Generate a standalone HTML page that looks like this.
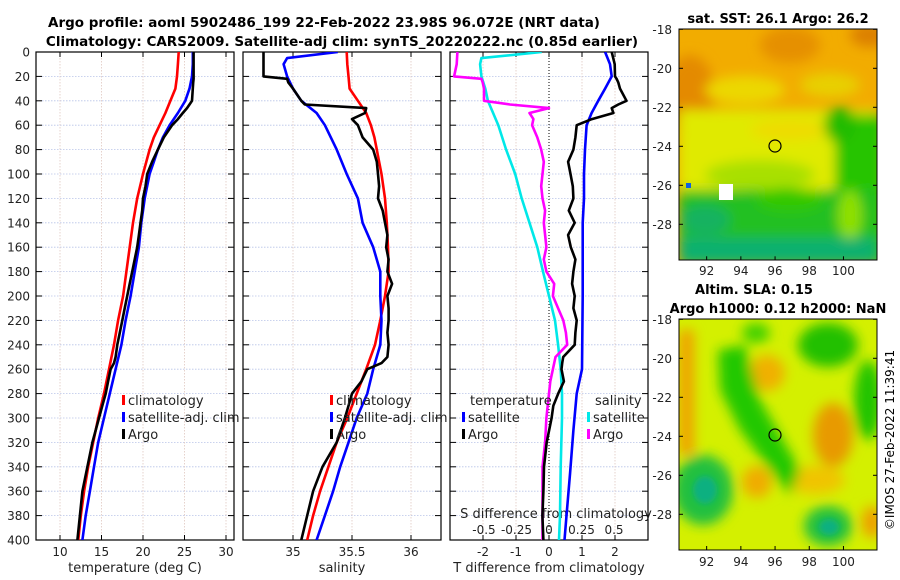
<!DOCTYPE html>
<html><head><meta charset="utf-8"><style>
html,body{margin:0;padding:0;background:#fff;}
svg{display:block;font-family:"DejaVu Sans","Liberation Sans",sans-serif;}
</style></head><body>
<svg id="chart" width="900" height="580" viewBox="0 0 900 580" xmlns="http://www.w3.org/2000/svg">
<defs>
<filter id="blur6" x="-50%" y="-50%" width="200%" height="200%"><feGaussianBlur stdDeviation="6"/></filter>
<filter id="blur3" x="-50%" y="-50%" width="200%" height="200%"><feGaussianBlur stdDeviation="3"/></filter>
<clipPath id="clipMap1"><rect x="679" y="29" width="198" height="231"/></clipPath>
<clipPath id="clipMap2"><rect x="679" y="319" width="198" height="231"/></clipPath>
<clipPath id="clipP1"><rect x="36" y="52" width="198" height="488"/></clipPath>
<clipPath id="clipP2"><rect x="243" y="52" width="198" height="488"/></clipPath>
<clipPath id="clipP3"><rect x="450" y="52" width="198" height="488"/></clipPath>
</defs>
<text x="324" y="27" text-anchor="middle" font-size="13.5" font-weight="bold">Argo profile: aoml 5902486_199 22-Feb-2022 23.98S 96.072E (NRT data)</text>
<text x="342" y="46" text-anchor="middle" font-size="13.5" font-weight="bold">Climatology: CARS2009. Satellite-adj clim: synTS_20220222.nc (0.85d earlier)</text>

<g id="map1">
 <g clip-path="url(#clipMap1)">
  <rect x="679" y="29" width="198" height="231" fill="#f2ac00"/>
  <g filter="url(#blur6)">
   <ellipse cx="690" cy="95" rx="25" ry="40" fill="#e48a00"/>
   <ellipse cx="790" cy="45" rx="30" ry="18" fill="#e69000"/>
   <ellipse cx="870" cy="35" rx="20" ry="12" fill="#dc8000"/>
   <rect x="679" y="110" width="198" height="80" fill="#e0ea00"/>
   <ellipse cx="745" cy="90" rx="40" ry="14" fill="#ecd800"/>
   <ellipse cx="830" cy="85" rx="30" ry="12" fill="#e8d000"/>
   <ellipse cx="760" cy="175" rx="55" ry="15" fill="#a8e000"/>
   <ellipse cx="790" cy="130" rx="40" ry="10" fill="#eedc00"/>
   <rect x="835" y="115" width="50" height="150" fill="#28c400"/>
   <ellipse cx="840" cy="125" rx="16" ry="18" fill="#20bc00"/>
   <rect x="679" y="190" width="198" height="75" fill="#20c020"/>
   <ellipse cx="790" cy="200" rx="35" ry="12" fill="#30c800"/>
   <ellipse cx="850" cy="215" rx="12" ry="25" fill="#90e000"/>
   <rect x="679" y="238" width="198" height="25" fill="#10b070"/>
   <ellipse cx="705" cy="220" rx="25" ry="15" fill="#14b260"/>
  </g>
  <rect x="719" y="184" width="14" height="16" fill="#ffffff"/>
  <rect x="686" y="183" width="5" height="5" fill="#1060e0"/>
 </g>
 <rect x="679" y="29" width="198" height="231" fill="none" stroke="#000" stroke-width="1"/>
 <circle cx="775" cy="146" r="6" fill="none" stroke="#000" stroke-width="1.2"/>
 <text x="778" y="23" text-anchor="middle" font-size="13" font-weight="bold">sat. SST: 26.1 Argo: 26.2</text>
</g>

<g id="map2">
 <g clip-path="url(#clipMap2)">
  <rect x="679" y="319" width="198" height="231" fill="#d4f000"/>
  <g filter="url(#blur6)">
   <rect x="679" y="330" width="15" height="125" fill="#f0a000"/>
   <ellipse cx="767" cy="373" rx="18" ry="18" fill="#f0b000"/>
   <ellipse cx="833" cy="435" rx="20" ry="32" fill="#e89a00"/>
   <ellipse cx="757" cy="482" rx="15" ry="16" fill="#f0ac00"/>
   <ellipse cx="872" cy="522" rx="10" ry="16" fill="#ee9e00"/>
   <ellipse cx="815" cy="480" rx="30" ry="14" fill="#f0c400"/>
   <path d="M718 350 L745 345 L760 400 L800 470 L790 495 L770 470 L740 430 L720 390 Z" fill="#22c800"/>
   <ellipse cx="828" cy="345" rx="30" ry="22" fill="#20c000"/>
   <ellipse cx="868" cy="400" rx="14" ry="40" fill="#22c400"/>
   <ellipse cx="756" cy="333" rx="14" ry="10" fill="#40d000"/>
   <ellipse cx="703" cy="490" rx="30" ry="35" fill="#20c040"/>
   <ellipse cx="828" cy="526" rx="24" ry="20" fill="#20c040"/>
  </g>
  <g filter="url(#blur3)">
   <ellipse cx="705" cy="490" rx="12" ry="14" fill="#10b080"/>
   <ellipse cx="829" cy="527" rx="10" ry="8" fill="#10b080"/>
  </g>
 </g>
 <rect x="679" y="319" width="198" height="231" fill="none" stroke="#000" stroke-width="1"/>
 <circle cx="775" cy="435" r="6" fill="none" stroke="#000" stroke-width="1.2"/>
 <text x="754" y="294" text-anchor="middle" font-size="13" font-weight="bold">Altim. SLA: 0.15</text>
 <text x="778" y="313" text-anchor="middle" font-size="13" font-weight="bold">Argo h1000: 0.12 h2000: NaN</text>
</g>
<text transform="translate(894,440) rotate(-90)" text-anchor="middle" font-size="12">©IMOS 27-Feb-2022 11:39:41</text>
<g id="dyn"></g>
</svg>
<script>
// ---- data ----
const depthTicks = [0,20,40,60,80,100,120,140,160,180,200,220,240,260,280,300,320,340,360,380,400];
const tempTicks = [10,15,20,25,30];
const salTicks = [35,35.5,36];
const tdiffTicks = [-2,-1,0,1,2];
const sdiffTicks = [-0.5,-0.25,0,0.25,0.5];
const sdiffTickLabels = ["-0.5","-0.25","0","0.25","0.5"];
const lonTicks = [92,94,96,98,100];
const latTicks = [-18,-20,-22,-24,-26,-28];

const depthClim = [0,10,20,30,40,50,60,70,80,90,100,120,140,160,180,200,220,240,260,280,300,320,340,360,380,400];
const tempClim = [24.3,24.2,24.1,23.9,23.3,22.7,22.0,21.3,20.8,20.4,20.0,19.3,18.8,18.4,18.0,17.6,17.0,16.5,15.9,15.3,14.6,14.0,13.4,12.9,12.5,12.2];
const salClim = [35.455,35.46,35.47,35.48,35.55,35.62,35.66,35.69,35.71,35.73,35.75,35.78,35.795,35.805,35.81,35.78,35.74,35.695,35.62,35.54,35.46,35.37,35.30,35.23,35.17,35.12];
const tempSat = [26.0,26.0,25.9,25.6,25.1,24.2,23.2,22.4,21.8,21.3,20.8,20.2,19.8,19.5,19.0,18.5,17.9,17.4,16.7,16.0,15.3,14.6,14.1,13.6,13.1,12.7];
const depthSalSat = [0,5,10,20,30,40,50,60,80,100,120,140,160,180,200,220,240,260,280,300,320,340,360,380,400];
const salSat = [35.38,34.95,34.92,34.95,35.0,35.07,35.2,35.27,35.37,35.455,35.55,35.59,35.68,35.74,35.74,35.75,35.74,35.68,35.63,35.54,35.47,35.40,35.34,35.27,35.2];
const depthArgo = [0,10,20,22,25,30,40,43,46,50,55,60,70,80,90,100,110,120,130,140,150,160,170,180,190,200,210,220,230,240,250,255,260,270,280,290,300,320,340,360,380,400];
const tempArgo = [26.1,26.1,26.1,26.1,26.05,26.0,25.9,25.6,25.3,24.8,24.2,23.5,22.5,21.8,21.1,20.5,20.3,20.0,19.9,19.7,19.5,19.3,19.0,18.7,18.4,18.1,17.8,17.5,17.2,16.9,16.7,16.5,16.1,15.8,15.5,15.1,14.7,13.9,13.3,12.7,12.4,12.1];
const salArgo = [34.75,34.75,34.75,34.95,34.96,35.0,35.07,35.1,35.62,35.61,35.5,35.55,35.59,35.68,35.71,35.72,35.73,35.72,35.76,35.78,35.8,35.79,35.81,35.8,35.84,35.8,35.81,35.81,35.8,35.81,35.8,35.75,35.63,35.58,35.5,35.47,35.44,35.37,35.25,35.17,35.12,35.07];
const tdiffArgo = [1.9,1.99,2.0,2.05,2.1,2.15,2.35,2.1,1.9,1.95,1.3,0.84,0.8,0.74,0.58,0.65,0.72,0.74,0.6,0.78,0.58,0.66,0.8,0.74,0.7,0.78,0.74,0.84,0.8,0.78,0.43,0.4,0.38,0.45,0.28,0.13,0.08,-0.07,-0.15,-0.17,-0.2,-0.17];
const sdiffArgo = [-0.705,-0.71,-0.73,-0.52,-0.51,-0.5,-0.5,-0.3,0.0,-0.15,-0.12,-0.13,-0.09,-0.06,-0.04,-0.05,-0.06,-0.05,-0.03,-0.04,-0.03,-0.02,-0.04,-0.02,0.04,0.03,0.07,0.11,0.13,0.14,0.05,0.04,0.03,0.01,0.0,-0.01,-0.02,-0.03,-0.05,-0.05,-0.05,-0.05];
const depthTdiffSat = [0,10,20,30,40,50,60,80,100,120,140,200,260,280,310,345,383,400];
const tdiffSat = [1.7,1.85,1.9,1.7,1.49,1.29,1.14,1.09,1.06,1.06,1.02,1.02,1.0,0.84,0.74,0.64,0.52,0.47];
const depthSdiffSat = [0,5,10,20,30,40,60,80,100,120,140,160,180,200,220,240,260,280,300,340,380,400];
const sdiffSat = [-0.056,-0.52,-0.53,-0.52,-0.49,-0.47,-0.39,-0.33,-0.26,-0.21,-0.15,-0.09,-0.046,0.0,0.046,0.07,0.09,0.1,0.1,0.09,0.085,0.077];

// ---- axes ----
const NS = "http://www.w3.org/2000/svg";
const dyn = document.getElementById('dyn');
const yD = d => 52 + d * 1.22;
const xT = t => 60 + (t - 10) * 8.3;
const xS = s => 293 + (s - 35) * 118;
const xTd = t => 549 + t * 33;
const xSd = s => 549 + s * 130;
const xLon = l => 679.3 + (l - 90.4) * 17.1;
const yLat1 = l => 29.3 + (-18 - l) * 19.5;
const yLat2 = l => 319.3 + (-18 - l) * 19.5;

function mk(tag, attrs, parent) {
  const e = document.createElementNS(NS, tag);
  for (const k in attrs) e.setAttribute(k, attrs[k]);
  (parent || dyn).appendChild(e);
  return e;
}
function txt(s, attrs, parent) { const e = mk('text', attrs, parent); e.textContent = s; return e; }

const panels = [
  {x0:36, clip:'clipP1', name:'temperature-panel', vticks: tempTicks, fx: xT, labels: tempTicks.map(String), xlabel:'temperature (deg C)'},
  {x0:243, clip:'clipP2', name:'salinity-panel', vticks: salTicks, fx: xS, labels: ["35","35.5","36"], xlabel:'salinity'},
  {x0:450, clip:'clipP3', name:'difference-panel', vticks: tdiffTicks, fx: xTd, labels: tdiffTicks.map(String), xlabel:'T difference from climatology'}
];
panels.forEach((p, pi) => {
  const g = mk('g', {});
  
  
  depthTicks.forEach(d => {
    if (d === 0 || d === 400) return;
    mk('line', {x1:p.x0, x2:p.x0+198, y1:yD(d), y2:yD(d), stroke:'#b8c4e8', 'stroke-width':0.8, 'stroke-dasharray':'1.5,1.5'}, g);
  });
  p.vticks.forEach(v => {
    const x = p.fx(v);
    if (pi === 2 && v === 0) {
      mk('line', {x1:x, x2:x, y1:52, y2:540, stroke:'#000', 'stroke-width':1, 'stroke-dasharray':'1,2'}, g);
    } else {
      mk('line', {x1:x, x2:x, y1:52, y2:540, stroke:'#e0c8c0', 'stroke-width':0.8, 'stroke-dasharray':'1.5,1.5'}, g);
    }
    mk('line', {x1:x, x2:x, y1:540, y2:535, stroke:'#000', 'stroke-width':1}, g);
    mk('line', {x1:x, x2:x, y1:52, y2:57, stroke:'#000', 'stroke-width':1}, g);
    const t = txt(p.labels[p.vticks.indexOf(v)], {x:x, y:556, 'text-anchor':'middle', 'font-size':12, fill:'#222'}, g);
    
    
  });
  depthTicks.forEach(d => {
    mk('line', {x1:p.x0, x2:p.x0+6, y1:yD(d), y2:yD(d), stroke:'#000', 'stroke-width':1}, g);
    mk('line', {x1:p.x0+198, x2:p.x0+192, y1:yD(d), y2:yD(d), stroke:'#000', 'stroke-width':1}, g);
  });
  mk('rect', {x:p.x0, y:52, width:198, height:488, fill:'none', stroke:'#000', 'stroke-width':1.2}, g);
  const xl = txt(p.xlabel, {x:p.x0+99, y:572, 'text-anchor':'middle', 'font-size':13, fill:'#222'}, g);
  
  
});
depthTicks.forEach(d => {
  const t = txt(String(d), {x:30, y:yD(d)+4.5, 'text-anchor':'end', 'font-size':12, fill:'#222'});
  
  
});

const sdt = txt('S difference from climatology', {x:556, y:518, 'text-anchor':'middle', 'font-size':13, fill:'#222'});


sdiffTicks.forEach((s, i) => {
  const t = txt(sdiffTickLabels[i], {x:xSd(s), y:534, 'text-anchor':'middle', 'font-size':12, fill:'#222'});
  
  
});

// ---- series ----
function line(depths, vals, fx, color, clip, name) {
  const pts = depths.map((d, i) => fx(vals[i]).toFixed(1) + ',' + yD(d).toFixed(1)).join(' ');
  const e = mk('polyline', {points:pts, fill:'none', stroke:color, 'stroke-width':2.6, 'stroke-linejoin':'round', 'clip-path':'url(#'+clip+')'});
  
  
}
line(depthClim, tempClim, xT, '#ff0000', 'clipP1', 'temp-climatology-line');
line(depthClim, tempSat, xT, '#0000ff', 'clipP1', 'temp-satellite-line');
line(depthArgo, tempArgo, xT, '#000000', 'clipP1', 'temp-argo-line');
line(depthClim, salClim, xS, '#ff0000', 'clipP2', 'sal-climatology-line');
line(depthSalSat, salSat, xS, '#0000ff', 'clipP2', 'sal-satellite-line');
line(depthArgo, salArgo, xS, '#000000', 'clipP2', 'sal-argo-line');
line(depthSdiffSat, sdiffSat, xSd, '#00e8e8', 'clipP3', 'sdiff-satellite-line');
line(depthArgo, sdiffArgo, xSd, '#ff00ff', 'clipP3', 'sdiff-argo-line');
line(depthTdiffSat, tdiffSat, xTd, '#0000ff', 'clipP3', 'tdiff-satellite-line');
line(depthArgo, tdiffArgo, xTd, '#000000', 'clipP3', 'tdiff-argo-line');

// ---- legends ----
function legend(x, y, color, label, name) {
  const g = mk('g', {});
  
  
  mk('rect', {x:x, y:y-10, width:3, height:10, fill:color}, g);
  txt(label, {x:x+6, y:y, 'font-size':13, fill:'#222'}, g);
}
legend(122, 405, '#ff0000', 'climatology', 'legend-climatology');
legend(122, 422, '#0000ff', 'satellite-adj. clim', 'legend-satellite-adj');
legend(122, 439, '#000000', 'Argo', 'legend-argo');
legend(330, 405, '#ff0000', 'climatology', 'legend-sal-climatology');
legend(330, 422, '#0000ff', 'satellite-adj. clim', 'legend-sal-satellite-adj');
legend(330, 439, '#000000', 'Argo', 'legend-sal-argo');
const lt = txt('temperature', {x:470, y:405, 'font-size':13, fill:'#222'});


const ls = txt('salinity', {x:595, y:405, 'font-size':13, fill:'#222'});


legend(462, 422, '#0000ff', 'satellite', 'legend-t-satellite');
legend(462, 439, '#000000', 'Argo', 'legend-t-argo');
legend(587, 422, '#00e8e8', 'satellite', 'legend-s-satellite');
legend(587, 439, '#ff00ff', 'Argo', 'legend-s-argo');

// ---- map axes ----
[[yLat1, 260.3, 275], [yLat2, 550, 566]].forEach(([fy, yb, yl]) => {
  latTicks.forEach(l => {
    const y = fy(l);
    mk('line', {x1:679, x2:683, y1:y, y2:y, stroke:'#000'});
    mk('line', {x1:877, x2:873, y1:y, y2:y, stroke:'#000'});
    const t = txt(String(l), {x:672, y:y+4.5, 'text-anchor':'end', 'font-size':12, fill:'#222'});
    
    
  });
  lonTicks.forEach(l => {
    const x = xLon(l);
    mk('line', {x1:x, x2:x, y1:yb, y2:yb-4, stroke:'#000'});
    const t = txt(String(l), {x:x, y:yl, 'text-anchor':'middle', 'font-size':12, fill:'#222'});
    
    
  });
});
</script>
</body></html>
